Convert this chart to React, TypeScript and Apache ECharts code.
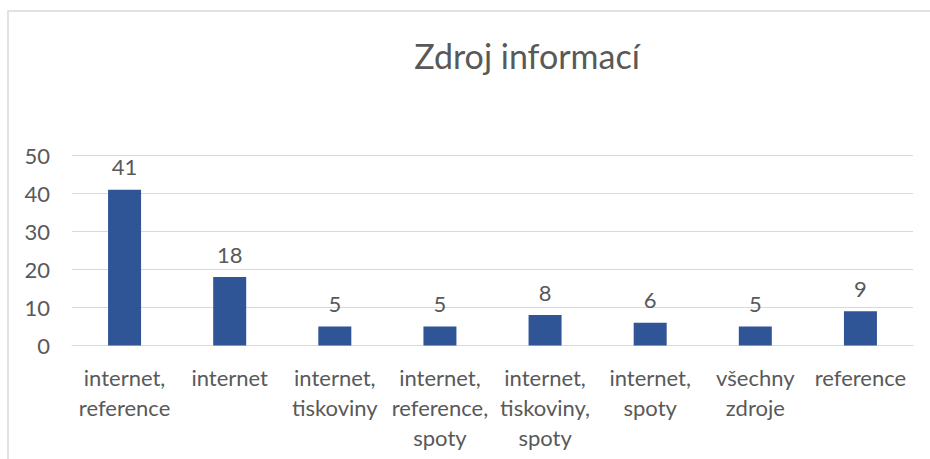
import React, { useEffect, useRef } from "react";
import * as echarts from "echarts";

const categories = [
  "internet,\nreference",
  "internet",
  "internet,\ntiskoviny",
  "internet,\nreference,\nspoty",
  "internet,\ntiskoviny,\nspoty",
  "internet,\nspoty",
  "všechny\nzdroje",
  "reference",
];
const values = [41, 18, 5, 5, 8, 6, 5, 9];
const title = "Zdroj informací";

const FONT = "Lato";
const TEXT = "#595959";

export default function App() {
  const ref = useRef<HTMLDivElement>(null);
  useEffect(() => {
    const chart = echarts.init(ref.current!, null, { renderer: "svg" });
    chart.setOption({
      animation: false,
      backgroundColor: "#ffffff",
      title: {
        text: title,
        left: 522,
        textAlign: "center",
        top: 33,
        textStyle: { fontFamily: FONT, fontSize: 34, fontWeight: "normal", color: TEXT },
      },
      graphic: [
        {
          type: "rect",
          shape: { x: 8, y: 11, width: 1000, height: 1000 },
          style: { fill: "none", stroke: "#D9D9D9", lineWidth: 1.5 },
          silent: true,
        },
      ],
      grid: { left: 72, right: 17, top: 155.5, bottom: 113.5 },
      xAxis: {
        type: "category",
        data: categories,
        axisLine: { lineStyle: { color: "#D9D9D9", width: 1 } },
        axisTick: { show: false },
        axisLabel: {
          interval: 0,
          fontFamily: FONT,
          fontSize: 22,
          color: TEXT,
          lineHeight: 30,
          margin: 17,
        },
      },
      yAxis: {
        type: "value",
        min: 0,
        max: 50,
        interval: 10,
        axisLine: { show: false },
        axisTick: { show: false },
        splitLine: { lineStyle: { color: "#D9D9D9", width: 1 } },
        axisLabel: { fontFamily: FONT, fontSize: 22, color: TEXT, margin: 22 },
      },
      series: [
        {
          type: "bar",
          data: values,
          barWidth: 33,
          itemStyle: { color: "#2F5597" },
          label: {
            show: true,
            position: "top",
            distance: 12,
            fontFamily: FONT,
            fontSize: 22,
            color: TEXT,
          },
        },
      ],
    });
    return () => chart.dispose();
  }, []);
  return (
    <div
      ref={ref}
      style={{ position: "fixed", left: 0, top: 0, width: 930, height: 459 }}
    />
  );
}
